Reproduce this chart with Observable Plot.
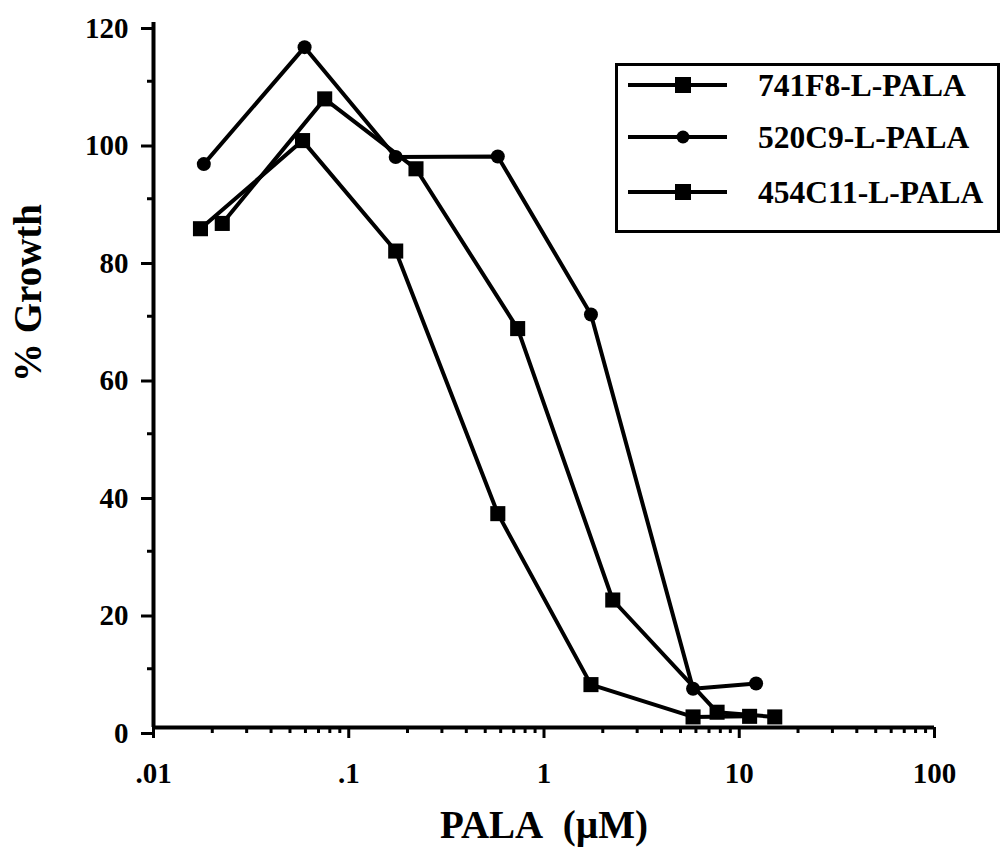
<!DOCTYPE html>
<html><head><meta charset="utf-8">
<script src="https://cdn.jsdelivr.net/npm/d3@7"></script>
<script src="https://cdn.jsdelivr.net/npm/@observablehq/plot@0.6"></script>
<style>
body{margin:0;background:#fff;}
#wrap{position:relative;width:1003px;height:851px;font-family:"Liberation Serif","Times New Roman",serif;color:#000;}
#legend{position:absolute;left:615px;top:63px;width:385px;height:170px;border:3px solid #000;box-sizing:border-box;background:#fff;}
#legend svg{display:block;}
</style></head><body><div id="wrap"><div id="legend"></div></div>
<script>
// ---- data ----
const seriesNames = ["741F8-L-PALA", "520C9-L-PALA", "454C11-L-PALA"];
const seriesSymbols = ["square", "circle", "square"];

const x741F8 = [0.0225, 0.0753, 0.221, 0.733, 2.25, 7.7, 15.2];
const y741F8 = [85.8, 107.0, 95.1, 67.9, 21.7, 2.6, 1.8];

const x520C9 = [0.0181, 0.0594, 0.174, 0.58, 1.74, 5.8, 12.2];
const y520C9 = [95.9, 115.8, 97.1, 97.2, 70.3, 6.6, 7.5];

const x454C11 = [0.0174, 0.058, 0.174, 0.58, 1.74, 5.8, 11.3];
const y454C11 = [84.9, 99.9, 81.1, 36.4, 7.3, 1.8, 1.9];

const xTickValues = [0.01, 0.1, 1, 10, 100];
const xTickLabels = [".01", ".1", "1", "10", "100"];
const yTickValues = [0, 20, 40, 60, 80, 100, 120];
const yMinorTicks = [10, 30, 50, 70, 90, 110];
const xTitle = "PALA\u00a0\u00a0(\u00b5M)";
const yTitle = "%\u00a0Growth";

// ---- build table ----
const xs = [x741F8, x520C9, x454C11];
const ys = [y741F8, y520C9, y454C11];
const rows = [];
seriesNames.forEach((name, k) => {
  xs[k].forEach((xv, i) => rows.push({series: name, symbol: seriesSymbols[k], x: xv, y: ys[k][i]}));
});
const xMinorTicks = [];
for (let d = 0; d < 4; d++) for (let m = 2; m <= 9; m++) xMinorTicks.push(m * xTickValues[d]);

const font = "Liberation Serif, Times New Roman, serif";
const chart = Plot.plot({
  width: 1003, height: 851,
  marginLeft: 153, marginRight: 69, marginTop: 22, marginBottom: 124,
  style: {fontFamily: font, background: "transparent", color: "#000", overflow: "visible"},
  x: {type: "log", domain: [0.01, 100]},
  y: {domain: [0, 120]},
  marks: [
    Plot.axisY(yMinorTicks, {tickSize: 6, strokeWidth: 3, tickFormat: () => "", label: null}),
    Plot.axisY(yTickValues, {tickSize: 12, tickPadding: 13, strokeWidth: 3, fontSize: 29, fontWeight: "bold", dy: 6, tickFormat: d => String(d), label: null}),
    Plot.axisX(xMinorTicks, {tickSize: 6, strokeWidth: 3, tickFormat: () => "", label: null}),
    Plot.axisX(xTickValues, {tickSize: 11, tickPadding: 24, strokeWidth: 3, fontSize: 29, fontWeight: "bold", tickFormat: d => xTickLabels[xTickValues.indexOf(d)], label: null}),
    Plot.ruleX([0.01], {strokeWidth: 4}),
    Plot.ruleY([0], {strokeWidth: 4}),
    Plot.line(rows, {x: "x", y: "y", z: "series", stroke: "#000", strokeWidth: 4, strokeLinejoin: "miter"}),
    Plot.dot(rows.filter(d => d.symbol === "square"), {x: "x", y: "y", symbol: "square", r: 8.5, fill: "#000"}),
    Plot.dot(rows.filter(d => d.symbol === "circle"), {x: "x", y: "y", symbol: "circle", r: 7, fill: "#000"}),
    Plot.text([xTitle], {frameAnchor: "bottom", dy: 98, fontSize: 39, fontWeight: "bold", lineAnchor: "middle"}),
    Plot.text([yTitle], {frameAnchor: "left", rotate: -90, dx: -125, dy: 7, fontSize: 39, fontWeight: "bold", lineAnchor: "middle"})
  ]
});
const wrap = document.getElementById("wrap");
wrap.insertBefore(chart, wrap.firstChild);

// ---- legend ----
const lg = d3.select("#legend").append("svg").attr("width", 379).attr("height", 164);
const rowY = [19, 71, 126];
seriesNames.forEach((name, k) => {
  const g = lg.append("g").attr("transform", `translate(0,${rowY[k]})`);
  g.append("line").attr("x1", 10).attr("x2", 109).attr("stroke", "#000").attr("stroke-width", 4);
  if (seriesSymbols[k] === "square") g.append("rect").attr("x", 57).attr("y", -8).attr("width", 16).attr("height", 16).attr("fill", "#000");
  else g.append("circle").attr("cx", 65).attr("r", 6.5).attr("fill", "#000");
  g.append("text").attr("x", 140).attr("y", 11).attr("font-family", font).attr("font-size", 31.5).attr("font-weight", "bold").text(name);
});
</script></body></html>
